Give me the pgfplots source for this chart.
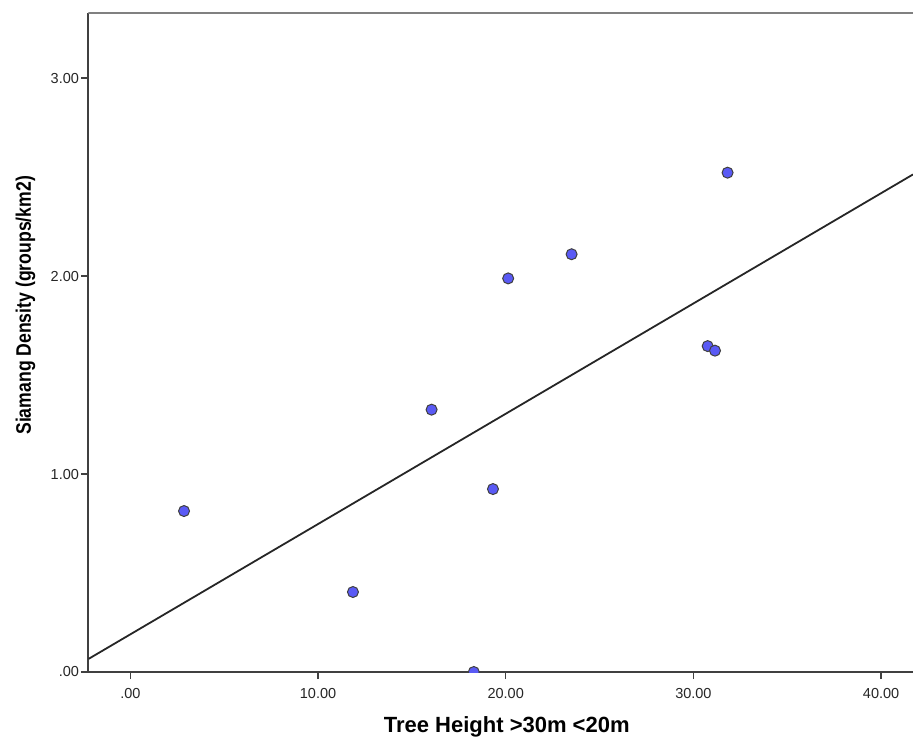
\documentclass[border=0pt]{standalone}
\usepackage{pgfplots}
\pgfplotsset{compat=1.18}
\usepackage{graphicx}
\usepackage{fontspec}
\setmainfont{Liberation Sans}
\definecolor{ptblue}{RGB}{90,90,245}
\begin{document}
\begin{tikzpicture}
\useasboundingbox (-88.5pt,-70pt) rectangle (824.5pt,672pt);
\begin{axis}[
  at={(0,0)}, anchor=south west,
  scale only axis, width=824.5pt, height=659.3pt,
  xmin=-2.23, xmax=41.7, ymin=0, ymax=3.33,
  clip marker paths=true,
  axis x line*=bottom, axis y line*=left,
  axis line style={black!75, line width=2pt, -},
  xtick={0,10,20,30,40}, xticklabels={.00,10.00,20.00,30.00,40.00},
  ytick={0,1,2,3}, yticklabels={.00,1.00,2.00,3.00},
  tick align=outside, major tick length=7pt,
  tick style={black!75, line width=1.5pt},
  ticklabel style={font=\fontsize{14.5}{14.5}\selectfont, text=black!85},
  xticklabel style={yshift=-6pt},
  yticklabel style={xshift=1pt},
  xlabel={Tree Height >30m <20m},
  ylabel={\scalebox{0.84}[1]{Siamang Density (groups/km2)}},
  xlabel style={font=\bfseries\fontsize{22}{22}\selectfont, at={(axis description cs:0.5,0)}, anchor=center, yshift=-55pt, xshift=6pt},
  ylabel style={font=\bfseries\fontsize{21}{21}\selectfont, at={(axis description cs:0,0.5)}, anchor=center, yshift=63pt, xshift=37pt},
]
\addplot[black!85, line width=1.8pt] coordinates {(-2.23,0.066) (41.7,2.513)};
\addplot[only marks, mark=*, mark size=5.5pt, mark options={fill=ptblue, draw=black!75, line width=1pt}] coordinates {
(2.86,0.813) (11.86,0.404) (16.05,1.325) (19.32,0.924) (18.3,0.0)
(20.13,1.988) (23.51,2.110) (31.82,2.522) (30.76,1.646) (31.15,1.623)};
\draw[black!50, line width=2.5pt] (rel axis cs:0,1) -- (rel axis cs:1,1);
\end{axis}
\end{tikzpicture}
\end{document}
